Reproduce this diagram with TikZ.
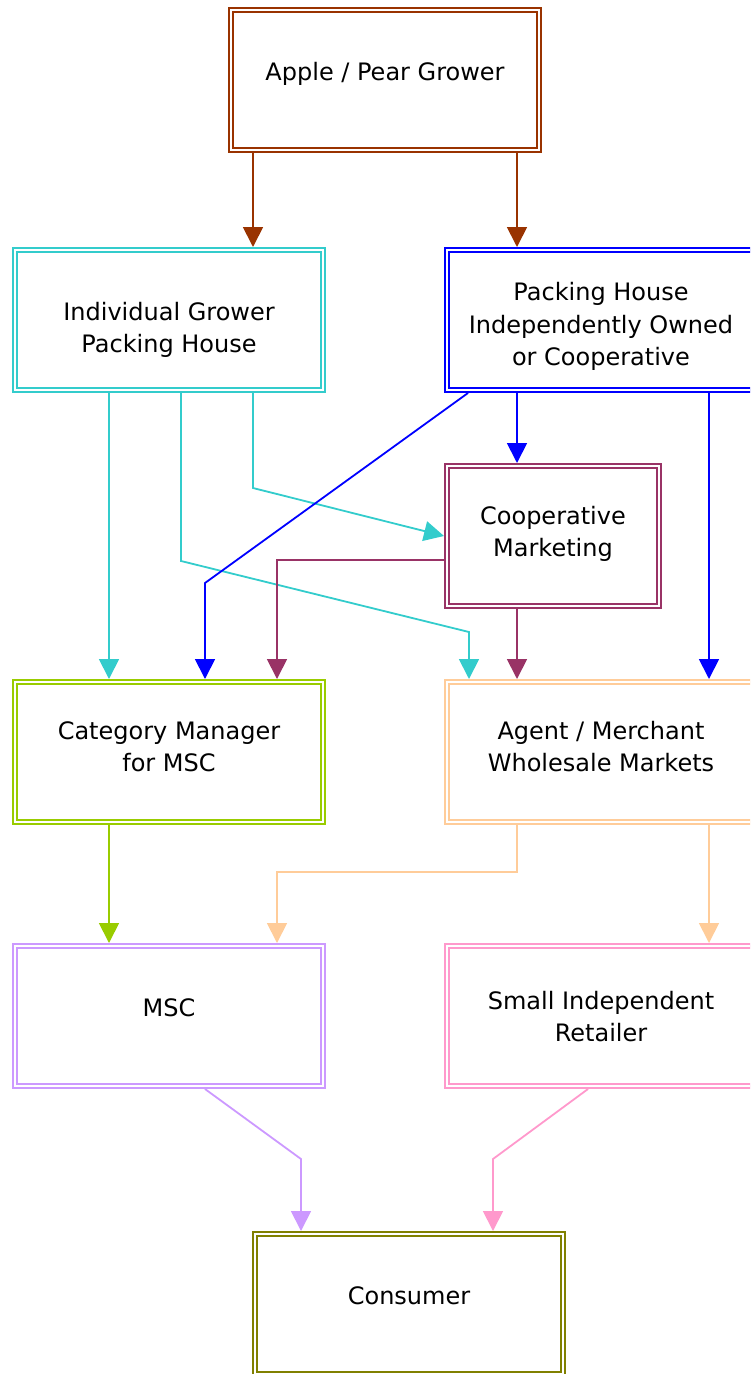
\documentclass[tikz,border=0pt]{standalone}
\usepackage{fontspec}
\setmainfont{DejaVu Sans}
\usetikzlibrary{arrows.meta}

\definecolor{cBrown}{HTML}{993300}
\definecolor{cCyan}{HTML}{33CCCC}
\definecolor{cBlue}{HTML}{0000FF}
\definecolor{cPlum}{HTML}{993366}
\definecolor{cLime}{HTML}{99CC00}
\definecolor{cPeach}{HTML}{FFCC99}
\definecolor{cLilac}{HTML}{CC99FF}
\definecolor{cPink}{HTML}{FF99CC}
\definecolor{cOlive}{HTML}{808000}

\begin{document}
\begin{tikzpicture}[x=1pt,y=-1pt,
  box/.style={draw=#1, double, line width=2pt, double distance=2.2pt,
    minimum width=307.8pt, minimum height=139.8pt, outer sep=3.1pt, inner sep=0pt},
  boxtext/.style={font=\fontsize{24}{32.4}\selectfont, align=center,
    anchor=base, inner sep=0pt},
  link/.style={draw=#1, line width=1.8pt, line join=miter,
    -{Triangle[length=20pt,width=20pt]}},
]
\useasboundingbox (0,0) rectangle (750,1374);
\clip (0,0) rectangle (750,1374);

% boxes
\node[box=cBrown] (apple) at (385,80) {};
\node[box=cCyan]  (indiv) at (169,320) {};
\node[box=cBlue]  (pack)  at (601,320) {};
\node[box=cPlum, minimum width=211.8pt] (coop) at (553,536) {};
\node[box=cLime]  (cat)   at (169,752) {};
\node[box=cPeach] (agent) at (601,752) {};
\node[box=cLilac] (msc)   at (169,1016) {};
\node[box=cPink]  (small) at (601,1016) {};
\node[box=cOlive] (cons)  at (409,1304) {};

% box texts (anchored on the baseline of the last line)
\node[boxtext] (appleT) at (385,80)    {Apple / Pear Grower};
\node[boxtext] (indivT) at (169,352.5) {Individual Grower\\Packing House};
\node[boxtext] (packT)  at (601,365.5) {Packing House\\Independently Owned\\or Cooperative};
\node[boxtext] (coopT)  at (553,556.5) {Cooperative\\Marketing};
\node[boxtext] (catT)   at (169,771.8) {Category Manager\\for MSC};
\node[boxtext] (agentT) at (601,771.8) {Agent / Merchant\\Wholesale Markets};
\node[boxtext] (mscT)   at (169,1016)  {MSC};
\node[boxtext] (smallT) at (601,1041.4) {Small Independent\\Retailer};
\node[boxtext] (consT)  at (409,1304)  {Consumer};

% grower
\draw[link=cBrown] ([xshift=-132pt]apple.south) -- ([xshift=-132pt]apple.south |- indiv.north);
\draw[link=cBrown] ([xshift=132pt]apple.south) -- ([xshift=132pt]apple.south |- pack.north);

% individual grower packing house
\draw[link=cCyan] ([xshift=-60pt]indiv.south) -- ([xshift=-60pt]cat.north);
\draw[link=cCyan] ([xshift=12pt]indiv.south) -- ++(0,168)
  -- ([xshift=-132pt,yshift=47pt]agent.north) -- ([xshift=-132pt]agent.north);
\draw[link=cCyan] ([xshift=84pt]indiv.south) -- ++(0,95) -- (coop.west);

% packing house
\draw[link=cBlue] ([xshift=-133pt]pack.south)
  -- ([xshift=36pt,yshift=96pt]cat.north) -- ([xshift=36pt]cat.north);
\draw[link=cBlue] ([xshift=-84pt]pack.south) -- ([xshift=-84pt]pack.south |- coop.north);
\draw[link=cBlue] ([xshift=108pt]pack.south) -- ([xshift=108pt]agent.north);

% cooperative marketing
\draw[link=cPlum] ([yshift=-24pt]coop.west) -| ([xshift=108pt]cat.north);
\draw[link=cPlum] ([xshift=-36pt]coop.south) -- ([xshift=-84pt]agent.north);

% category manager and agent
\draw[link=cLime] ([xshift=-60pt]cat.south) -- ([xshift=-60pt]msc.north);
\draw[link=cPeach] ([xshift=-84pt]agent.south) -- ++(0,47) -| ([xshift=108pt]msc.north);
\draw[link=cPeach] ([xshift=108pt]agent.south) -- ([xshift=108pt]small.north);

% retail
\draw[link=cLilac] ([xshift=36pt]msc.south)
  -- ([xshift=-108pt,yshift=72pt]cons.north) -- ([xshift=-108pt]cons.north);
\draw[link=cPink] ([xshift=-13pt]small.south)
  -- ([xshift=84pt,yshift=72pt]cons.north) -- ([xshift=84pt]cons.north);
\end{tikzpicture}
\end{document}
